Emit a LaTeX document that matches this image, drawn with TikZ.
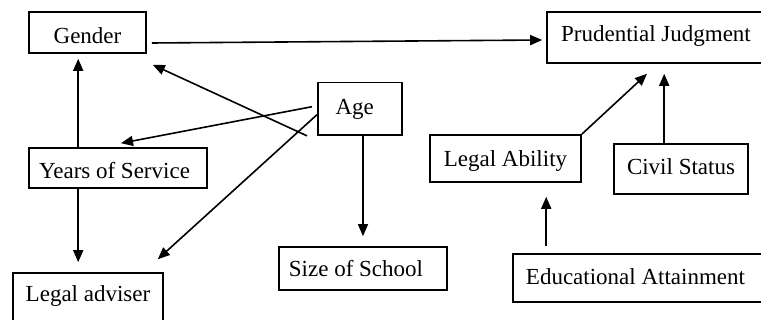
\documentclass[tikz,border=0pt]{standalone}
\usepackage{fontspec}
\setmainfont{Liberation Serif}
\usetikzlibrary{calc,arrows.meta}
\tikzset{
  box/.style={draw, line width=1.6pt, rectangle, inner sep=0pt, text height=0pt, text depth=0pt, font=\fontsize{23}{27}\selectfont},
  arr/.style={line width=1.6pt, -{Triangle[length=12pt,width=10pt]}}
}
\begin{document}
\begin{tikzpicture}[x=1pt,y=-1pt]
\useasboundingbox (0,0) rectangle (761,320);
\clip (0,0) rectangle (761,320);
\node[box, minimum width=117, minimum height=41] (gender) at (87.5,32.5) {\raisebox{-11.5pt}{Gender}};
\node[box, minimum width=84, minimum height=52.7] (age) at (359.8,108.7) {\raisebox{-5.6pt}{\kern-10pt Age}};
\node[box, minimum width=218, minimum height=51] (prud) at (656,37.5) {\raisebox{-4.2pt}{Prudential Judgment}};
\node[box, minimum width=178, minimum height=40] (years) at (118,168) {\raisebox{-11pt}{\kern-7pt Years of Service}};
\node[box, minimum width=150, minimum height=50] (legal) at (88,298) {\raisebox{-4pt}{Legal adviser}};
\node[box, minimum width=168, minimum height=43] (size) at (363,268.5) {\raisebox{-8.2pt}{\kern-14pt Size of School}};
\node[box, minimum width=151, minimum height=47] (ability) at (505.5,158.5) {\raisebox{-8.2pt}{Legal Ability}};
\node[box, minimum width=134, minimum height=50] (civil) at (681,169) {\raisebox{-6pt}{Civil Status}};
\node[box, minimum width=251, minimum height=48] (educ) at (638.5,278) {\raisebox{-7pt}{\kern-6pt Educational Attainment}};

\draw[arr] ($(gender.east)+(5,10.5)$) -- ($(prud.west)+(-4,2.5)$);
\draw[arr] ($(years.north west)+(50,0)$) -- ($(gender.south west)+(50,5)$);
\draw[arr] ($(years.south west)+(50,0)$) -- ($(legal.north west)+(66,-10)$);
\draw[arr] ($(age.south west)+(-10,0)$) -- ($(gender.south east)+(6,11)$);
\draw[arr] ($(age.west)+(-5,-2)$) -- ($(years.north)+(3,-4)$);
\draw[arr] ($(age.west)+(0,6)$) -- ($(legal.north east)+(-6,-13)$);
\draw[arr] (age.south -| size.north) -- ($(size.north)+(0,-10)$);
\draw[arr] (ability.north east) -- ($(prud.south)+(-9,10)$);
\draw[arr] ($(civil.north west)+(51,0)$) -- ($(prud.south west)+(118,10)$);
\draw[arr] ($(educ.north west)+(34,-7)$) -- ($(ability.south west)+(117,14)$);
\end{tikzpicture}
\end{document}
